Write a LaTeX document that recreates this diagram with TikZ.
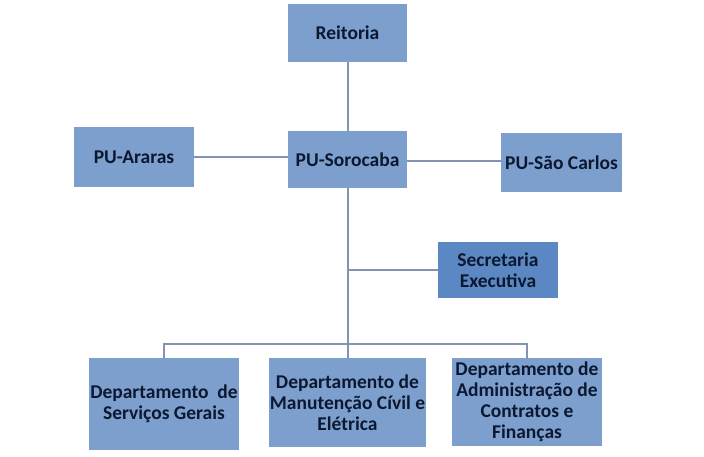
\documentclass[tikz,border=0pt]{standalone}
\usepackage{fontspec}
\setmainfont{Carlito}
\definecolor{boxfill}{HTML}{7C9FCE}
\definecolor{boxdark}{HTML}{5B88C2}
\definecolor{txt}{HTML}{0C1830}
\definecolor{conn}{HTML}{8394B2}
\begin{document}
\begin{tikzpicture}[x=1pt,y=-1pt,
  unit/.style={fill=boxfill, draw=none, inner sep=1pt, text=txt,
    font=\fontsize{19.5}{21}\selectfont\bfseries, align=center},
  link/.style={draw=conn, line width=2pt}]
\useasboundingbox[fill=white] (0,0) rectangle (704,456);
\node[unit, minimum width=119, minimum height=58] (reit) at (347.5,33) {Reitoria};
\node[unit, minimum width=119, minimum height=57] (soro) at (347.5,159.5) {PU-Sorocaba};
\node[unit, minimum width=120, minimum height=60] (arar) at (134,157) {PU-Araras};
\node[unit, minimum width=121, minimum height=59] (scar) at (561.5,162.5) {PU-São Carlos};
\node[unit, fill=boxdark, minimum width=120, minimum height=56] (secr) at (498,270) {Secretaria\\Executiva};
\node[unit, minimum width=150, minimum height=92] (dep1) at (164,404) {Departamento\ \ de\\Serviços Gerais};
\node[unit, minimum width=155, minimum height=89] (dep2) at (347.5,402.5) {Departamento de\\Manutenção Cívil e\\Elétrica};
\node[unit, minimum width=150, minimum height=88] (dep3) at (527,402) {Departamento de\\Administração de\\Contratos e\\Finanças};
\coordinate (bus) at (347.5,344);
\draw[link] (reit.south) -- (soro.north);
\draw[link] (arar.east) -- (arar.east -| soro.west);
\draw[link] (soro.east |- 0,161) -- (scar.west |- 0,161);
\draw[link] (soro.south) -- (bus);
\draw[link] (secr.west) -- (secr.west -| soro.south);
\draw[link] (dep1.north) |- (bus) -| (dep3.north);
\draw[link] (bus) -- (dep2.north);
\end{tikzpicture}
\end{document}
